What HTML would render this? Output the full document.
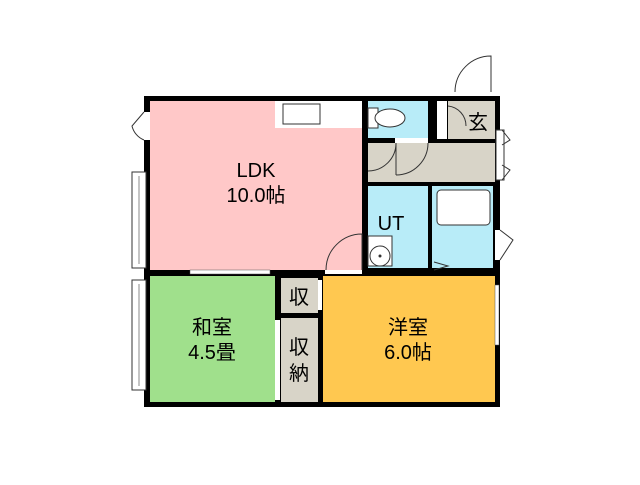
<!DOCTYPE html><html><head><style>body{margin:0;background:#fff}svg text{font-family:"Liberation Sans","Noto Sans CJK JP",sans-serif}</style></head><body>
<svg width="640" height="480" viewBox="0 0 640 480" xmlns="http://www.w3.org/2000/svg">
<rect x="144" y="96" width="356" height="311" fill="#000"/>
<rect x="150" y="101" width="212" height="169" fill="#ffc8c8"/>
<rect x="275" y="101" width="87" height="27" fill="#fff"/>
<rect x="283" y="104" width="37" height="20" fill="#fff" stroke="#333" stroke-width="1"/>
<rect x="368" y="101" width="60" height="37" fill="#b8ecf8"/>
<rect x="368" y="108" width="10" height="20" fill="#fff" stroke="#333"/>
<ellipse cx="390" cy="118" rx="15" ry="9" fill="#fff" stroke="#333"/>
<rect x="368" y="143" width="127" height="39" fill="#d8d4c8"/>
<rect x="448" y="101" width="47" height="38" fill="#d8d4c8"/>
<rect x="437" y="101" width="10" height="38" fill="#fff"/>
<rect x="368" y="138" width="8" height="5" fill="#000"/>
<rect x="395" y="138" width="33" height="5" fill="#fff"/>
<rect x="368" y="186" width="60" height="82" fill="#b8ecf8"/>
<rect x="432" y="186" width="61" height="82" fill="#b8ecf8"/>
<rect x="437" y="190" width="53" height="35" rx="4" fill="#fff" stroke="#333"/>
<rect x="368" y="236" width="24" height="30" fill="#fff" stroke="#333"/>
<circle cx="380" cy="256" r="10" fill="#fff" stroke="#333"/>
<circle cx="380" cy="256" r="1.5" fill="#333"/>
<path d="M434 262 L448 266 L434 270" fill="none" stroke="#333"/>
<rect x="150" y="276" width="125" height="126" fill="#a0e08c"/>
<rect x="281" y="278" width="37" height="35" fill="#d8d4c8"/>
<rect x="281" y="318" width="37" height="84" fill="#d8d4c8"/>
<rect x="323" y="276" width="172" height="126" fill="#ffc850"/>
<rect x="190" y="270" width="80" height="4" fill="#fff" stroke="#555" stroke-width="0.5"/>
<rect x="325" y="270" width="37" height="4" fill="#fff"/>
<path d="M326 270 A36 36 0 0 1 362 234 L362 270" fill="none" stroke="#333"/>
<path d="M396 143 A28 28 0 0 1 368 171" fill="none" stroke="#333"/>
<path d="M396 143 L396 175 M428 143 A32 32 0 0 1 396 175" fill="none" stroke="#333"/>
<path d="M448 106 A20 20 0 0 1 466 126" fill="none" stroke="#333"/>
<rect x="455" y="90" width="37" height="6" fill="#fff"/>
<path d="M455 92 A36 36 0 0 1 491 56 L491 92" fill="none" stroke="#333"/>
<rect x="496" y="130" width="8" height="50" fill="#fff" stroke="#333"/>
<path d="M502 130 L510 140 L502 145 M502 180 L510 170 L502 165" fill="none" stroke="#333"/>
<rect x="495" y="230" width="5" height="30" fill="#fff"/>
<path d="M500 230 L513 240 L500 260" fill="none" stroke="#333"/>
<rect x="495" y="285" width="4" height="60" fill="#fff" stroke="#555" stroke-width="0.5"/>
<rect x="132" y="172" width="14" height="96" fill="#fff" stroke="#333"/>
<line x1="139" y1="176" x2="139" y2="264" stroke="#888"/>
<rect x="132" y="280" width="14" height="110" fill="#fff" stroke="#333"/>
<line x1="139" y1="284" x2="139" y2="386" stroke="#888"/>
<rect x="140" y="112" width="10" height="28" fill="#fff"/>
<path d="M144 112 L132 126 A20 20 0 0 0 144 140" fill="#fff" stroke="#333"/>
<rect x="275" y="320" width="5" height="80" fill="#fff"/>
<rect x="318" y="280" width="4" height="30" fill="#fff"/>
<g font-size="20" text-anchor="middle" fill="#000">
<text x="256" y="177">LDK</text><text x="256" y="202">10.0帖</text>
<text x="391" y="230">UT</text>
<text x="478" y="129">玄</text>
<text x="299" y="304">収</text>
<text x="299" y="354">収</text><text x="299" y="380">納</text>
<text x="212" y="334">和室</text><text x="212" y="359">4.5畳</text>
<text x="408" y="334">洋室</text><text x="408" y="359">6.0帖</text>
</g>
</svg></body></html>
